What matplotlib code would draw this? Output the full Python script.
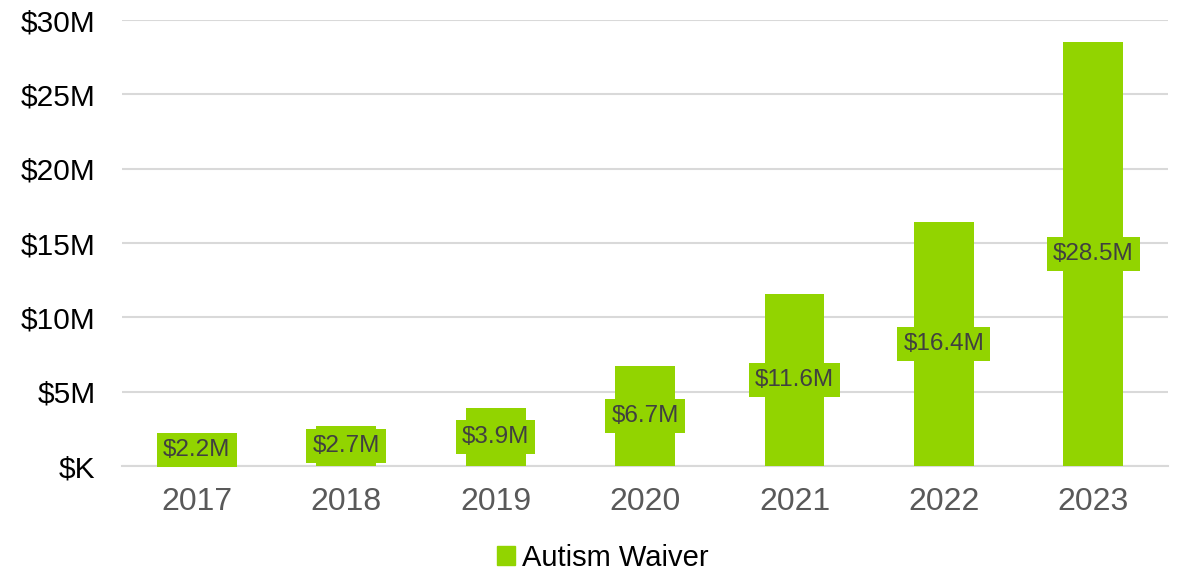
import matplotlib.pyplot as plt
from matplotlib.patches import Patch

years = ["2017", "2018", "2019", "2020", "2021", "2022", "2023"]
spending = [2.2, 2.7, 3.9, 6.7, 11.6, 16.4, 28.5]  # millions of dollars
ytick_values = [0, 5, 10, 15, 20, 25, 30]
ytick_labels = ["$K", "$5M", "$10M", "$15M", "$20M", "$25M", "$30M"]

GREEN = "#92D400"

plt.rcParams['font.family'] = ['Liberation Sans', 'DejaVu Sans']

fig = plt.figure(figsize=(11.78, 5.74), dpi=100)
ax = fig.add_axes([0.1036, 0.188, 0.888, 0.777])

x = range(len(years))
bars = ax.bar(x, spending, width=0.4, color=GREEN, zorder=3)

# value labels sit in the middle of each bar on a green box
for xi, val in zip(x, spending):
    ax.text(xi, val / 2, f"${val}M", ha="center", va="center",
            fontsize=17.5, color="#404040", zorder=4,
            bbox=dict(boxstyle="square,pad=0.25", fc=GREEN, ec="none"))

ax.set_xlim(-0.5, len(years) - 0.5)
ax.set_ylim(0, 30)
ax.set_xticks(list(x))
ax.set_xticklabels(years, fontsize=23, color="#595959")
ax.set_yticks(ytick_values)
ax.set_yticklabels(ytick_labels, fontsize=21.5, color="#000000")
ax.tick_params(axis="both", length=0)
ax.tick_params(axis="x", pad=15)
ax.tick_params(axis="y", pad=19)

ax.yaxis.grid(True, color="#d9d9d9", linewidth=1.5, zorder=0)
for side in ["top", "right", "left"]:
    ax.spines[side].set_visible(False)
ax.spines["bottom"].set_color("#d9d9d9")
ax.spines["bottom"].set_linewidth(1.5)

fig.legend(handles=[Patch(color=GREEN, label="Autism Waiver")],
           loc="center", bbox_to_anchor=(0.512, 0.028), frameon=False,
           fontsize=21, handlelength=0.6, handleheight=0.6, handletextpad=0.25,
           borderpad=0.1)

fig.savefig("out.png", dpi=100, facecolor="white")
